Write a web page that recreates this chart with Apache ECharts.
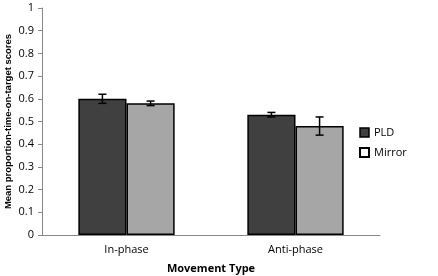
<!DOCTYPE html>
<html>
<head>
<meta charset="utf-8">
<script src="https://cdn.jsdelivr.net/npm/echarts@6/dist/echarts.min.js"></script>
<style>
    html, body { margin: 0; padding: 0; background: #fff; }
    #chart { width: 438px; height: 276px; }
</style>
</head>
<body>
<div id="chart"></div>
<script>
var categories = ['In-phase', 'Anti-phase'];
var pldValues = [0.60, 0.53];
var pldErrors = [0.02, 0.01];
var mirrorValues = [0.58, 0.48];
var mirrorErrors = [0.01, 0.04];
var yTicks = [0, 0.1, 0.2, 0.3, 0.4, 0.5, 0.6, 0.7, 0.8, 0.9, 1];

var fontName = 'Open Sans';
var barGapRatio = 0.43;

function errData(values, errors) {
    return values.map(function (v, i) {
        return [i, v - errors[i], v + errors[i]];
    });
}

function errorBar(side) {
    return function (params, api) {
        var band = api.size([1, 0])[0];
        var barW = band * (1 - barGapRatio) / 2;
        var lo = api.coord([api.value(0), api.value(1)]);
        var hi = api.coord([api.value(0), api.value(2)]);
        var x = lo[0] + side * barW / 2;
        var cap = 4;
        var style = { stroke: '#000', lineWidth: 1.5 };
        return {
            type: 'group',
            children: [
                { type: 'line', shape: { x1: x, y1: lo[1], x2: x, y2: hi[1] }, style: style },
                { type: 'line', shape: { x1: x - cap, y1: lo[1], x2: x + cap, y2: lo[1] }, style: style },
                { type: 'line', shape: { x1: x - cap, y1: hi[1], x2: x + cap, y2: hi[1] }, style: style }
            ]
        };
    };
}

var chart = echarts.init(document.getElementById('chart'));
var option = {
    animation: false,
    textStyle: { fontFamily: fontName },
    grid: { left: 42, right: 58, top: 8, bottom: 41, outerBoundsMode: 'none' },
    legend: {
        orient: 'vertical',
        left: 354,
        top: 122,
        itemWidth: 9,
        itemHeight: 9,
        itemGap: 9,
        textStyle: { fontSize: 11, color: '#000', fontFamily: fontName },
        data: [
            { name: 'PLD', icon: 'rect', itemStyle: { color: '#404040', borderColor: '#000', borderWidth: 1.5 } },
            { name: 'Mirror', icon: 'rect', itemStyle: { color: '#fff', borderColor: '#000', borderWidth: 2 } }
        ]
    },
    xAxis: {
        type: 'category',
        data: categories,
        name: 'Movement Type',
        nameLocation: 'middle',
        nameGap: 28,
        nameTextStyle: { fontWeight: 'bold', fontSize: 11, color: '#000' },
        axisLine: { lineStyle: { color: '#888' } },
        axisTick: { length: 4, lineStyle: { color: '#888' } },
        axisLabel: { fontSize: 11, color: '#000', margin: 9 }
    },
    yAxis: {
        type: 'value',
        min: yTicks[0],
        max: yTicks[yTicks.length - 1],
        interval: 0.1,
        name: 'Mean proportion-time-on-target scores',
        nameLocation: 'middle',
        nameGap: 29,
        nameMoveOverlap: false,
        nameTextStyle: { fontWeight: 'bold', fontSize: 9.5, color: '#000', fontFamily: 'Liberation Sans' },
        splitLine: { show: false },
        axisLine: { show: true, lineStyle: { color: '#888' } },
        axisTick: { show: true, length: 4, lineStyle: { color: '#888' } },
        axisLabel: { fontSize: 11, color: '#000', margin: 8 }
    },
    series: [
        {
            name: 'PLD',
            type: 'bar',
            data: pldValues,
            barGap: '0%',
            barCategoryGap: '43%',
            itemStyle: { color: '#404040', borderColor: '#000', borderWidth: 1.5 }
        },
        {
            name: 'Mirror',
            type: 'bar',
            data: mirrorValues,
            itemStyle: { color: '#a6a6a6', borderColor: '#000', borderWidth: 1.5 }
        },
        {
            type: 'custom',
            renderItem: errorBar(-1),
            data: errData(pldValues, pldErrors),
            encode: { x: 0, y: [1, 2] },
            z: 10
        },
        {
            type: 'custom',
            renderItem: errorBar(1),
            data: errData(mirrorValues, mirrorErrors),
            encode: { x: 0, y: [1, 2] },
            z: 10
        }
    ]
};
chart.setOption(option);
</script>
</body>
</html>
